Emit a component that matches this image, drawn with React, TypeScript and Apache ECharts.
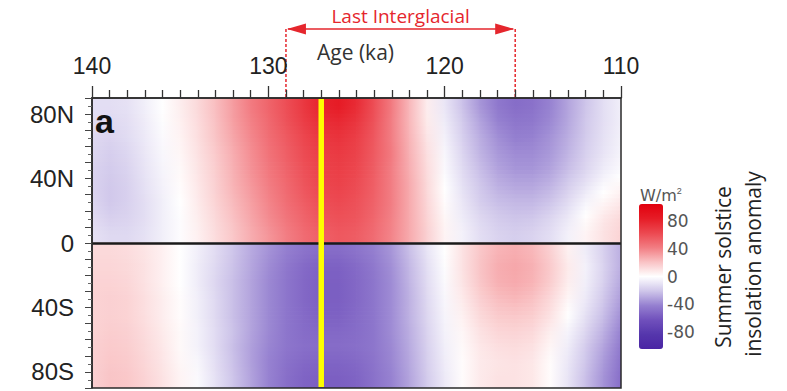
import React, { useEffect, useRef } from 'react';
import * as echarts from 'echarts';

// ---- data ----
const ages = [140, 139, 138, 137, 136, 135, 134, 133, 132, 131, 130, 129, 128, 127, 126, 125, 124, 123, 122, 121, 120, 119, 118, 117, 116, 115, 114, 113, 112, 111, 110];
const latCenters = [85, 75, 65, 55, 45, 35, 25, 15, 5, -5, -15, -25, -35, -45, -55, -65, -75, -85];

const n85 = [-12, -12, -11, -6, 0, 6, 13, 22, 32, 42, 51, 60, 70, 80, 84, 76, 60, 42, 24, 6, -9, -22, -35, -45, -50, -48, -41, -31, -21, -12, -6];
const n75 = [-13, -14, -12, -7, -1, 5, 12, 21, 31, 40, 49, 58, 67, 75, 77, 71, 58, 41, 24, 7, -7, -19, -31, -41, -46, -45, -39, -30, -20, -12, -6];
const n65 = [-14, -16, -13, -8, -2, 4, 11, 20, 29, 38, 47, 55, 63, 70, 72, 67, 56, 41, 25, 9, -5, -17, -28, -37, -42, -41, -36, -28, -19, -11, -5];
const n55 = [-15, -18, -15, -9, -3, 3, 10, 18, 27, 36, 45, 53, 61, 67, 69, 65, 55, 42, 26, 11, -3, -15, -26, -34, -38, -38, -34, -26, -17, -10, -4];
const n45 = [-16, -19, -16, -10, -4, 2, 9, 17, 26, 35, 43, 51, 59, 65, 67, 63, 54, 41, 27, 12, -2, -13, -23, -31, -35, -35, -31, -23, -15, -7, -2];
const n35 = [-16, -20, -17, -11, -5, 1, 8, 16, 25, 33, 41, 49, 57, 63, 65, 61, 53, 41, 28, 13, 0, -11, -20, -27, -30, -30, -26, -18, -10, -2, 3];
const n25 = [-15, -20, -17, -12, -6, 0, 7, 15, 23, 31, 39, 47, 54, 60, 62, 59, 52, 41, 28, 14, 1, -9, -18, -23, -25, -25, -21, -13, -4, 3, 8];
const n15 = [-13, -17, -16, -12, -6, -1, 6, 13, 21, 29, 37, 44, 51, 57, 59, 57, 50, 40, 28, 15, 3, -7, -14, -19, -21, -20, -15, -8, 1, 8, 13];
const n5 = [-11, -14, -14, -11, -6, -1, 5, 12, 19, 27, 34, 41, 48, 53, 56, 54, 48, 39, 28, 16, 4, -5, -12, -16, -18, -16, -12, -5, 4, 10, 15];
const s5 = [13, 13, 12, 9, 5, 0, -6, -13, -21, -29, -36, -42, -47, -50, -50, -47, -42, -35, -23, -10, 0, 10, 19, 25, 27, 24, 16, 5, -7, -17, -28];
const s15 = [14, 14, 13, 10, 5, 0, -7, -14, -22, -30, -38, -45, -51, -55, -55, -51, -45, -37, -25, -12, -1, 10, 20, 27, 29, 26, 18, 7, -5, -16, -28];
const s25 = [15, 15, 14, 10, 5, 0, -7, -15, -23, -31, -39, -46, -52, -56, -56, -52, -46, -38, -26, -13, -2, 9, 19, 26, 28, 25, 17, 6, -6, -17, -30];
const s35 = [15, 16, 15, 11, 6, 1, -6, -14, -23, -31, -39, -46, -52, -56, -56, -52, -46, -38, -27, -14, -3, 7, 16, 22, 24, 21, 13, 3, -8, -20, -33];
const s45 = [15, 16, 15, 11, 6, 1, -6, -14, -23, -31, -39, -46, -51, -55, -55, -51, -46, -38, -27, -15, -4, 5, 13, 18, 19, 17, 10, 0, -11, -23, -37];
const s55 = [15, 17, 16, 12, 7, 2, -5, -13, -22, -31, -39, -46, -50, -52, -52, -50, -46, -38, -28, -16, -5, 3, 10, 14, 15, 13, 6, -4, -15, -27, -41];
const s65 = [16, 18, 17, 13, 8, 2, -5, -13, -23, -32, -40, -46, -49, -50, -50, -49, -46, -39, -29, -17, -6, 2, 8, 11, 12, 10, 3, -7, -19, -31, -45];
const s75 = [16, 19, 18, 14, 9, 3, -3, -12, -22, -32, -41, -48, -52, -54, -54, -52, -47, -40, -30, -18, -7, 1, 7, 9, 10, 8, 1, -9, -21, -34, -48];
const s85 = [16, 20, 19, 15, 10, 4, -2, -11, -21, -31, -41, -49, -54, -56, -56, -54, -48, -41, -31, -19, -8, 1, 7, 10, 10, 8, 1, -10, -23, -36, -50];

const rows = [n85, n75, n65, n55, n45, n35, n25, n15, n5, s5, s15, s25, s35, s45, s55, s65, s75, s85];

const ageTickLabels = [140, 130, 120, 110];
const latTickLabels = [80, 40, 0, -40, -80];
const colorbarTicks = [80, 40, 0, -40, -80];
const colorRange = [-104, 104];
const markerAge = 127;
const lastInterglacial = [129, 116];

// ---- styles ----
const cmap = ['#4a24a4', '#5536ac', '#7050bc', '#9580d0', '#cfc6ea', '#ffffff', '#f9c2c4', '#f27c82', '#ec4850', '#e61c26', '#e2000e'];
const RED = '#e5262d';
const YELLOW = '#ffff00';
const SUB = 4; // sub-strips per row when shading

function colorOf(v: number) {
  const t = Math.max(0, Math.min(1, (v - colorRange[0]) / (colorRange[1] - colorRange[0])));
  return echarts.color.lerp(t, cmap) as string;
}

// each cell: [ageLeft, ageRight, latTop, latBottom, vL, vR, upL, upR, dnL, dnR]
// neighbours only within the same hemisphere (the equator is a discontinuity)
const cells: number[][] = [];
rows.forEach((row, r) => {
  const lat = latCenters[r];
  const up = r > 0 && Math.sign(latCenters[r - 1]) === Math.sign(lat) ? rows[r - 1] : row;
  const dn = r < rows.length - 1 && Math.sign(latCenters[r + 1]) === Math.sign(lat) ? rows[r + 1] : row;
  for (let i = 0; i < ages.length - 1; i++) {
    cells.push([ages[i], ages[i + 1], lat + 5, lat - 5, row[i], row[i + 1], up[i], up[i + 1], dn[i], dn[i + 1]]);
  }
});

const FONT = "'Liberation Sans', Arial, sans-serif";

export default function App() {
  const ref = useRef<HTMLDivElement>(null);
  useEffect(() => {
    document.body.style.margin = '0';
    const chart = echarts.init(ref.current!, null, { renderer: 'svg' });
    const option: any = {
      animation: false,
      backgroundColor: '#ffffff',
      grid: [
        { left: 92, top: 98, width: 529, height: 290, show: true, borderColor: '#2a2a2a', borderWidth: 1.5, backgroundColor: 'transparent', z: 10 },
        { left: 639, top: 204, width: 24, height: 145, show: false },
      ],
      xAxis: [
        {
          type: 'value', gridIndex: 0, min: 110, max: 140, interval: 10, inverse: true, position: 'top',
          axisLine: { show: true, onZero: false, lineStyle: { color: '#2a2a2a', width: 1.5 } },
          axisTick: { show: true, inside: false, length: 12, lineStyle: { color: '#333', width: 1.3 } },
          minorTick: { show: true, splitNumber: 10, length: 8, lineStyle: { color: '#333', width: 1.3 } },
          splitLine: { show: false },
          axisLabel: { customValues: ageTickLabels, fontSize: 23, color: '#222', margin: 21, fontFamily: FONT },
          z: 10,
        },
        { type: 'value', gridIndex: 1, min: 0, max: 1, show: false },
      ],
      yAxis: [
        {
          type: 'value', gridIndex: 0, min: -90, max: 90, interval: 10,
          axisLine: { show: true, onZero: false, lineStyle: { color: '#2a2a2a', width: 1.5 } },
          axisTick: { show: true, inside: false, length: 7, lineStyle: { color: '#444', width: 1 } },
          minorTick: { show: true, splitNumber: 2, length: 4, lineStyle: { color: '#666', width: 1 } },
          splitLine: { show: false },
          axisLabel: {
            customValues: latTickLabels, fontSize: 24, color: '#222', margin: 18, fontFamily: FONT,
            formatter: (v: number) => (v > 0 ? `${v}N` : v < 0 ? `${-v}S` : '0'),
          },
          z: 10,
        },
        {
          type: 'value', gridIndex: 1, min: colorRange[0], max: colorRange[1], position: 'right',
          axisLine: { show: false }, axisTick: { show: false }, splitLine: { show: false },
          axisLabel: { customValues: colorbarTicks, fontSize: 17, color: '#555', margin: 4, fontFamily: "'DejaVu Sans', sans-serif" },
        },
      ],
      visualMap: {
        type: 'continuous', min: colorRange[0], max: colorRange[1], dimension: 4, seriesIndex: 0,
        show: true, left: 639, top: 204, itemWidth: 24, itemHeight: 145, padding: 0,
        calculable: false, hoverLink: false, text: null, showLabel: false,
        inRange: { color: cmap },
      },
      series: [
        {
          type: 'custom', xAxisIndex: 0, yAxisIndex: 0, data: cells, clip: true,
          encode: { x: [0, 1], y: [2, 3] },
          renderItem: (params: any, api: any) => {
            const pA = api.coord([api.value(0), api.value(2)]);
            const pB = api.coord([api.value(1), api.value(3)]);
            const vL = api.value(4), vR = api.value(5);
            const uL = api.value(6), uR = api.value(7);
            const dL = api.value(8), dR = api.value(9);
            const leftIsA = pA[0] < pB[0];
            const x0 = Math.min(pA[0], pB[0]);
            const x1 = Math.max(pA[0], pB[0]);
            const y0 = Math.min(pA[1], pB[1]);
            const y1 = Math.max(pA[1], pB[1]);
            const h = (y1 - y0) / SUB;
            const children: any[] = [];
            for (let k = 0; k < SUB; k++) {
              // offset of strip centre from row centre, in units of row spacing (+ = up)
              const f = 0.5 - (k + 0.5) / SUB;
              const w = Math.abs(f);
              const nL = f > 0 ? uL : dL;
              const nR = f > 0 ? uR : dR;
              const a = vL + (nL - vL) * w;
              const b = vR + (nR - vR) * w;
              const cA = colorOf(a), cB = colorOf(b);
              children.push({
                type: 'rect',
                shape: { x: x0 - 0.4, y: y0 + k * h - 0.4, width: x1 - x0 + 0.8, height: h + 0.8 },
                style: {
                  fill: new echarts.graphic.LinearGradient(0, 0, 1, 0, [
                    { offset: 0, color: leftIsA ? cA : cB },
                    { offset: 1, color: leftIsA ? cB : cA },
                  ]),
                  stroke: null,
                },
              });
            }
            return { type: 'group', children };
          },
        },
        {
          type: 'line', xAxisIndex: 0, yAxisIndex: 0, data: [], z: 5,
          markLine: {
            silent: true, symbol: 'none', label: { show: false }, animation: false,
            lineStyle: { color: '#1a1a1a', width: 2.5, type: 'solid' },
            data: [{ yAxis: 0 }],
          },
        },
      ],
    };
    chart.setOption(option);

    const xL = chart.convertToPixel({ xAxisIndex: 0 }, lastInterglacial[0]) as number;
    const xR = chart.convertToPixel({ xAxisIndex: 0 }, lastInterglacial[1]) as number;
    const xM = chart.convertToPixel({ xAxisIndex: 0 }, markerAge) as number;
    const xMid = chart.convertToPixel({ xAxisIndex: 0 }, (ages[0] + ages[ages.length - 1]) / 2) as number;
    const yTop = chart.convertToPixel({ yAxisIndex: 0 }, 90) as number;
    const yBot = chart.convertToPixel({ yAxisIndex: 0 }, -90) as number;
    const yArrow = 29;
    chart.setOption({
      graphic: {
        elements: [
          { type: 'line', z: 30, shape: { x1: xM, y1: yTop + 1, x2: xM, y2: yBot - 1 }, style: { stroke: YELLOW, lineWidth: 5.5 } },
          { type: 'line', shape: { x1: xL + 2, y1: yArrow, x2: xR - 2, y2: yArrow }, style: { stroke: RED, lineWidth: 1.6 } },
          { type: 'polygon', shape: { points: [[xL + 1, yArrow], [xL + 20, yArrow - 5.5], [xL + 20, yArrow + 5.5]] }, style: { fill: RED } },
          { type: 'polygon', shape: { points: [[xR - 1, yArrow], [xR - 20, yArrow - 5.5], [xR - 20, yArrow + 5.5]] }, style: { fill: RED } },
          { type: 'line', shape: { x1: xL, y1: yArrow, x2: xL, y2: yTop }, style: { stroke: RED, lineWidth: 1.5, lineDash: [3, 2] } },
          { type: 'line', shape: { x1: xR, y1: yArrow, x2: xR, y2: yTop }, style: { stroke: RED, lineWidth: 1.5, lineDash: [3, 2] } },
          {
            type: 'text', x: (xL + xR) / 2, y: 15.5,
            style: { text: 'Last Interglacial', fill: RED, font: "19px 'Open Sans', sans-serif", textAlign: 'center', textVerticalAlign: 'middle' },
          },
          {
            type: 'text', x: xMid - 1, y: 52,
            style: { text: 'Age (ka)', fill: '#333', font: "21px 'Open Sans', sans-serif", textAlign: 'center', textVerticalAlign: 'middle' },
          },
          {
            type: 'text', x: 95, y: 121, z: 20,
            style: { text: 'a', fill: '#111', font: "bold 34px 'Liberation Sans', Arial, sans-serif", textAlign: 'left', textVerticalAlign: 'middle' },
          },
          {
            type: 'text', x: 640, y: 195,
            style: {
              text: 'W/m{s|2}', fill: '#555', font: "16px 'DejaVu Sans', sans-serif", textAlign: 'left', textVerticalAlign: 'middle',
              rich: { s: { fontSize: 9, verticalAlign: 'top', fill: '#555', padding: [0, 0, 8, 0] } },
            },
          },
          {
            type: 'text', x: 723, y: 267, rotation: Math.PI / 2,
            style: { text: 'Summer solstice', fill: '#222', font: "21px 'Open Sans', sans-serif", textAlign: 'center', textVerticalAlign: 'middle' },
          },
          {
            type: 'text', x: 753, y: 264, rotation: Math.PI / 2,
            style: { text: 'insolation anomaly', fill: '#222', font: "21px 'Open Sans', sans-serif", textAlign: 'center', textVerticalAlign: 'middle' },
          },
        ],
      },
    });
    return () => chart.dispose();
  }, []);
  return <div ref={ref} style={{ position: 'absolute', left: 0, top: 0, width: 787, height: 391 }} />;
}
